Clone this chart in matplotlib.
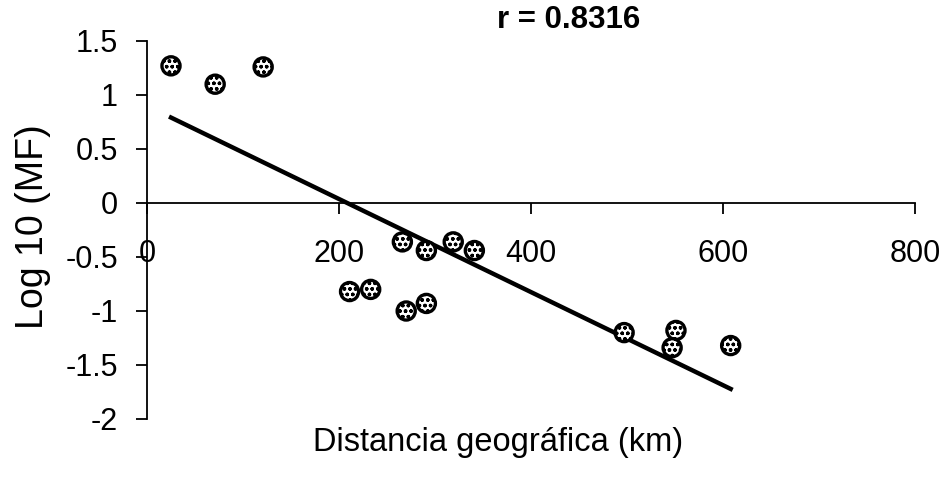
import matplotlib
matplotlib.use('Agg')
import matplotlib.pyplot as plt
import numpy as np

plt.rcParams['font.family'] = ['Liberation Sans', 'DejaVu Sans']

# distance (km) vs log10(MF) for each pair of populations
distancia = [25, 71, 121, 266, 291, 319, 341, 211, 233, 270, 291, 497, 551, 547, 608]
log_mf = [1.27, 1.10, 1.26, -0.36, -0.44, -0.36, -0.44, -0.82, -0.80, -1.00, -0.93,
          -1.20, -1.18, -1.34, -1.32]

# regression line
pendiente = -0.00431
intercepto = 0.899
r_valor = 0.8316

x_ticks = [0, 200, 400, 600, 800]
y_ticks = [-2, -1.5, -1, -0.5, 0, 0.5, 1, 1.5]

fig = plt.figure(figsize=(9.44, 5.0), dpi=100)
ax = fig.add_axes([147 / 944, 1 - 419 / 500, 768 / 944, 378 / 500])

ax.scatter(distancia, log_mf, s=170, facecolor='white', edgecolor='black',
           linewidth=2.4, hatch='ooo', zorder=3)

xl = np.array([min(distancia), max(distancia)])
ax.plot(xl, intercepto + pendiente * xl, color='black', linewidth=3.2, zorder=2)

ax.set_xlim(0, 800)
ax.set_ylim(-2, 1.5)
ax.set_xticks(x_ticks)
ax.set_yticks(y_ticks)
ax.set_xticklabels([str(v) for v in x_ticks])
ax.set_yticklabels([f'{v:g}' for v in y_ticks])

ax.spines['top'].set_visible(False)
ax.spines['right'].set_visible(False)
ax.spines['bottom'].set_position(('data', 0))
ax.spines['left'].set_linewidth(1.3)
ax.spines['bottom'].set_linewidth(1.3)
ax.tick_params(axis='y', direction='out', length=8, width=1.3, labelsize=22, pad=13)
ax.tick_params(axis='x', direction='out', length=8, width=1.3, labelsize=22, pad=18)

fig.text(569 / 944, 1 - 20 / 500, f'r = {r_valor}', fontsize=22.5, fontweight='bold',
         ha='center', va='center')
fig.text(498 / 944, 1 - 442 / 500, 'Distancia geográfica (km)', fontsize=23.5,
         ha='center', va='center')
fig.text(33 / 944, 1 - 227 / 500, 'Log 10 (MF)', fontsize=27, rotation=90,
         ha='center', va='center')

fig.savefig('out.png', dpi=100)
